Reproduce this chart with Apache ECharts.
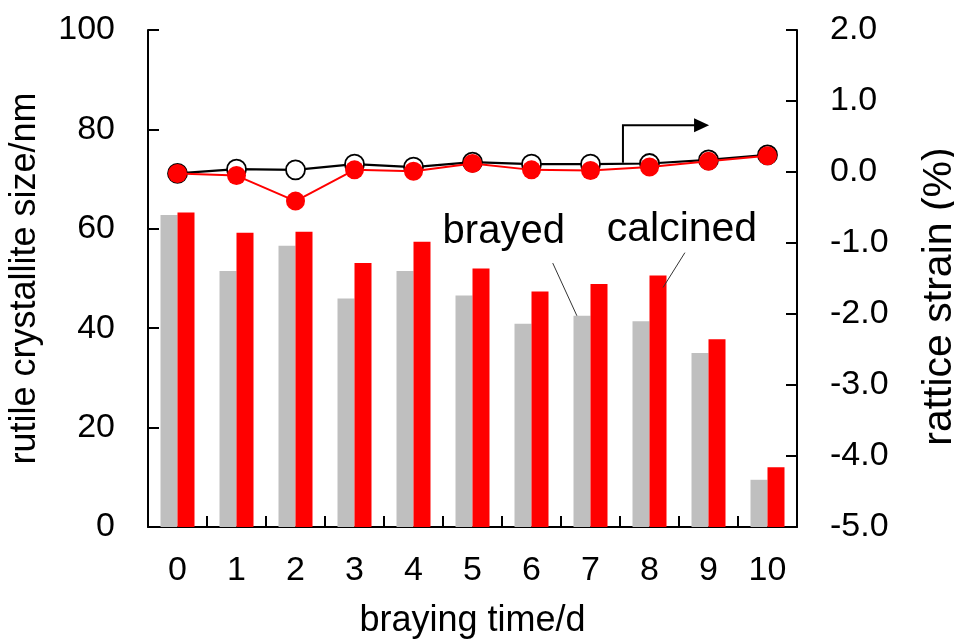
<!DOCTYPE html>
<html>
<head>
<meta charset="utf-8">
<script src="https://cdn.jsdelivr.net/npm/echarts@6/dist/echarts.min.js"></script>
<style>
  html, body { margin: 0; padding: 0; background: #fff; }
  #chart { width: 954px; height: 639px; }
</style>
</head>
<body>
<div id="chart"></div>
<script>
// Braying time (days)
const days = ['0', '1', '2', '3', '4', '5', '6', '7', '8', '9', '10'];
// Rutile crystallite size (nm), left axis
const brayedSize   = [62.8, 51.5, 56.6, 46.0, 51.5, 46.6, 40.9, 42.5, 41.4, 35.0, 9.5];
const calcinedSize = [63.3, 59.2, 59.4, 53.1, 57.4, 52.0, 47.4, 48.9, 50.6, 37.8, 12.0];
// Lattice strain (%), right axis
const brayedStrain   = [-0.02, 0.04, 0.03, 0.11, 0.07, 0.14, 0.11, 0.11, 0.12, 0.17, 0.24];
const calcinedStrain = [-0.02, -0.05, -0.41, 0.03, 0.01, 0.12, 0.03, 0.02, 0.07, 0.15, 0.23];
// Axis ticks
const sizeTicks = { min: 0, max: 100, interval: 20 };
const strainTicks = { min: -5, max: 2, interval: 1 };

const FONT = 'Liberation Sans, Arial, sans-serif';
const GRAY = '#bfbfbf';
const RED = '#ff0000';

const chart = echarts.init(document.getElementById('chart'), null, { renderer: 'canvas' });

const axisLine = { show: true, lineStyle: { color: '#000', width: 2 } };
const axisTick = { show: true, inside: true, length: 11, lineStyle: { color: '#000', width: 2 } };

chart.setOption({
  backgroundColor: '#fff',
  animation: false,
  grid: { left: 148, right: 157, top: 30, bottom: 112, containLabel: false, outerBoundsMode: 'none' },
  xAxis: {
    type: 'category',
    data: days,
    boundaryGap: true,
    name: 'braying time/d',
    nameLocation: 'middle',
    nameGap: 76,
    nameTextStyle: { fontFamily: FONT, fontSize: 36, color: '#000' },
    axisLine: axisLine,
    axisTick: axisTick,
    axisLabel: { fontFamily: FONT, fontSize: 34, color: '#000', margin: 27 },
    splitLine: { show: false }
  },
  yAxis: [
    {
      type: 'value',
      min: sizeTicks.min, max: sizeTicks.max, interval: sizeTicks.interval,
      name: 'rutile crystallite size/nm',
      nameLocation: 'middle',
      nameGap: 105,
      nameRotate: 90,
      nameTextStyle: { fontFamily: FONT, fontSize: 36, color: '#000' },
      axisLine: axisLine,
      axisTick: axisTick,
      axisLabel: { fontFamily: FONT, fontSize: 34, color: '#000', margin: 33 },
      splitLine: { show: false }
    },
    {
      type: 'value',
      position: 'right',
      min: strainTicks.min, max: strainTicks.max, interval: strainTicks.interval,
      name: 'rattice strain (%)',
      nameLocation: 'middle',
      nameGap: 122,
      nameRotate: 90,
      nameTextStyle: { fontFamily: FONT, fontSize: 41, color: '#000', padding: [0, 36, 0, 0] },
      axisLine: axisLine,
      axisTick: axisTick,
      axisLabel: {
        fontFamily: FONT, fontSize: 34, color: '#000', margin: 33,
        formatter: v => v.toFixed(1)
      },
      splitLine: { show: false }
    }
  ],
  series: [
    {
      name: 'brayed size', type: 'bar', yAxisIndex: 0,
      data: brayedSize, barWidth: 17, barGap: '0%',
      itemStyle: { color: GRAY }
    },
    {
      name: 'calcined size', type: 'bar', yAxisIndex: 0,
      data: calcinedSize, barWidth: 17, barGap: '0%',
      itemStyle: { color: RED }
    },
    {
      name: 'brayed strain', type: 'line', yAxisIndex: 1,
      data: brayedStrain,
      symbol: 'circle', symbolSize: 19,
      lineStyle: { color: '#000', width: 2.2 },
      itemStyle: { color: '#fff', borderColor: '#000', borderWidth: 1.8 },
      z: 3
    },
    {
      name: 'calcined strain', type: 'line', yAxisIndex: 1,
      data: calcinedStrain,
      symbol: 'circle', symbolSize: 19,
      lineStyle: { color: RED, width: 2 },
      itemStyle: { color: RED, borderColor: RED, borderWidth: 0 },
      z: 4
    }
  ]
});

// Annotations placed in data space (category index, axis value)
function pt(ci, v, axisIdx) {
  const a = chart.convertToPixel({ xAxisIndex: 0 }, 0);
  const b = chart.convertToPixel({ xAxisIndex: 0 }, 1);
  const x = a + (b - a) * ci;
  const y = chart.convertToPixel({ yAxisIndex: axisIdx }, v);
  return [x, y];
}

const halfBar = 8.5;

// leader line ends
const brayedFrom = pt(6.36, 53.1, 0);
const brayedTo = [pt(7, 0, 0)[0] - halfBar * 1.6, pt(7, brayedSize[7], 0)[1]];
const calcFrom = pt(8.6, 55.2, 0);
const calcTo = [pt(8, 0, 0)[0] + halfBar * 1.6, pt(8, calcinedSize[8] - 2.4, 0)[1]];

// right-axis arrow
const arrBase = pt(7.55, 0.13, 1);
const arrCorner = pt(7.55, 0.66, 1);
const arrTip = pt(9.01, 0.66, 1);
const headLen = 15, headHalf = 7;

const brayedLabel = pt(5.53, 59.4, 0);
const calcLabel = pt(8.55, 59.8, 0);

chart.setOption({
  graphic: [
    {
      type: 'text', x: brayedLabel[0], y: brayedLabel[1], z: 10,
      style: { text: 'brayed', font: '40px ' + FONT, fill: '#000', textAlign: 'center', textVerticalAlign: 'middle' }
    },
    {
      type: 'text', x: calcLabel[0], y: calcLabel[1], z: 10,
      style: { text: 'calcined', font: '41px ' + FONT, fill: '#000', textAlign: 'center', textVerticalAlign: 'middle' }
    },
    {
      type: 'line', z: 10,
      shape: { x1: brayedFrom[0], y1: brayedFrom[1], x2: brayedTo[0], y2: brayedTo[1] },
      style: { stroke: '#333', lineWidth: 1 }
    },
    {
      type: 'line', z: 10,
      shape: { x1: calcFrom[0], y1: calcFrom[1], x2: calcTo[0], y2: calcTo[1] },
      style: { stroke: '#333', lineWidth: 1 }
    },
    {
      type: 'polyline', z: 10,
      shape: { points: [arrBase, arrCorner, [arrTip[0] - headLen + 1, arrTip[1]]] },
      style: { stroke: '#000', lineWidth: 2, fill: null }
    },
    {
      type: 'polygon', z: 10,
      shape: { points: [[arrTip[0], arrTip[1]], [arrTip[0] - headLen, arrTip[1] - headHalf], [arrTip[0] - headLen, arrTip[1] + headHalf]] },
      style: { fill: '#000' }
    }
  ]
});
</script>
</body>
</html>
